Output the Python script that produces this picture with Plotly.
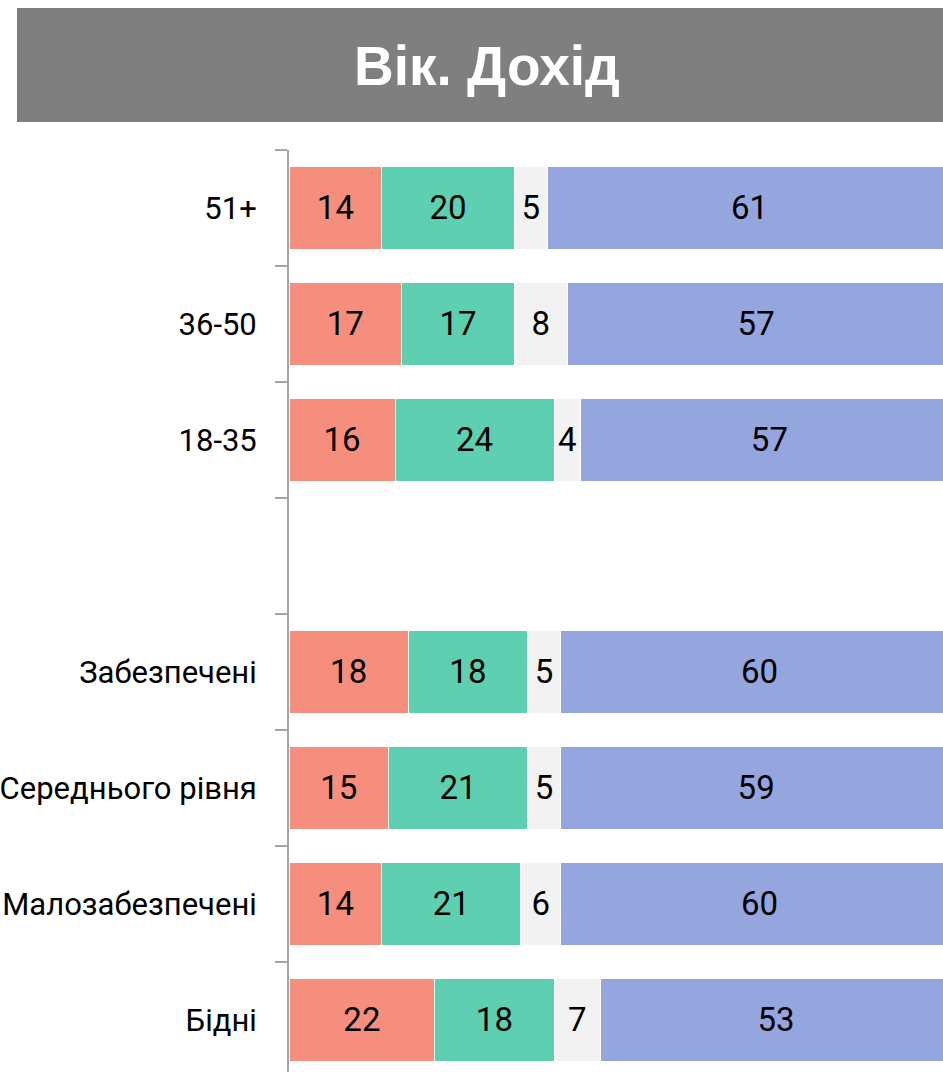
import plotly.graph_objects as go

categories = ["51+", "36-50", "18-35", " ", "Забезпечені", "Середнього рівня", "Малозабезпечені", "Бідні"]
s1 = [14, 17, 16, None, 18, 15, 14, 22]
s2 = [20, 17, 24, None, 18, 21, 21, 18]
s3 = [5, 8, 4, None, 5, 5, 6, 7]
s4 = [61, 57, 57, None, 60, 59, 60, 53]
series = [s1, s2, s3, s4]
colors = ["#F68E7E", "#5ECFB1", "#F2F2F2", "#95A5DE"]

FONT = "Liberation Sans Narrow, Arial Narrow, Roboto, Arial, sans-serif"
TFONT = "Liberation Sans Narrow, Arial Narrow, Liberation Sans, Arial, sans-serif"

W, H = 943, 1072
L, T = 289, 150
pw, ph = W - L, H - T

fig = go.Figure()
for vals, col in zip(series, colors):
    fig.add_trace(go.Bar(
        y=categories, x=vals, orientation="h",
        marker=dict(color=col, line=dict(color="white", width=1)),
        text=[("" if v is None else str(v)) for v in vals],
        textposition="inside", insidetextanchor="middle", textangle=0,
        textfont=dict(family=FONT, size=33, color="black"),
        cliponaxis=True, hoverinfo="skip", showlegend=False,
    ))

def px_x(p):
    return (p - L) / pw

def px_y(p):
    return (H - p) / ph

fig.add_shape(type="rect", xref="paper", yref="paper",
              x0=px_x(17), x1=px_x(960), y0=px_y(122), y1=px_y(8),
              fillcolor="#7F7F7F", line=dict(width=0), layer="above")
fig.add_annotation(xref="paper", yref="paper", x=px_x(487), y=px_y(66),
                   text="<b>Вік. Дохід</b>", showarrow=False,
                   xanchor="center", yanchor="middle",
                   font=dict(family=TFONT, size=55, color="white"))

fig.update_layout(
    width=W, height=H,
    margin=dict(l=L, r=0, t=T, b=0, pad=0),
    barmode="stack", bargap=0.285,
    plot_bgcolor="white", paper_bgcolor="white",
    xaxis=dict(range=[0, 98.7], visible=False, showgrid=False, zeroline=False, fixedrange=True),
    yaxis=dict(type="category", categoryorder="array", categoryarray=categories,
               range=[7.45, -0.5], showline=True, linecolor="#A6A6A6", linewidth=2,
               ticks="outside", tickson="boundaries", ticklen=12, tickwidth=2,
               tickcolor="#A6A6A6", showgrid=False, zeroline=False,
               automargin=False, ticklabelstandoff=24, fixedrange=True,
               tickfont=dict(family=FONT, size=31, color="black")),
)

fig.write_html("out.html", config={"displayModeBar": False},
               post_script="document.body.style.margin='0';document.body.style.overflow='hidden';")
